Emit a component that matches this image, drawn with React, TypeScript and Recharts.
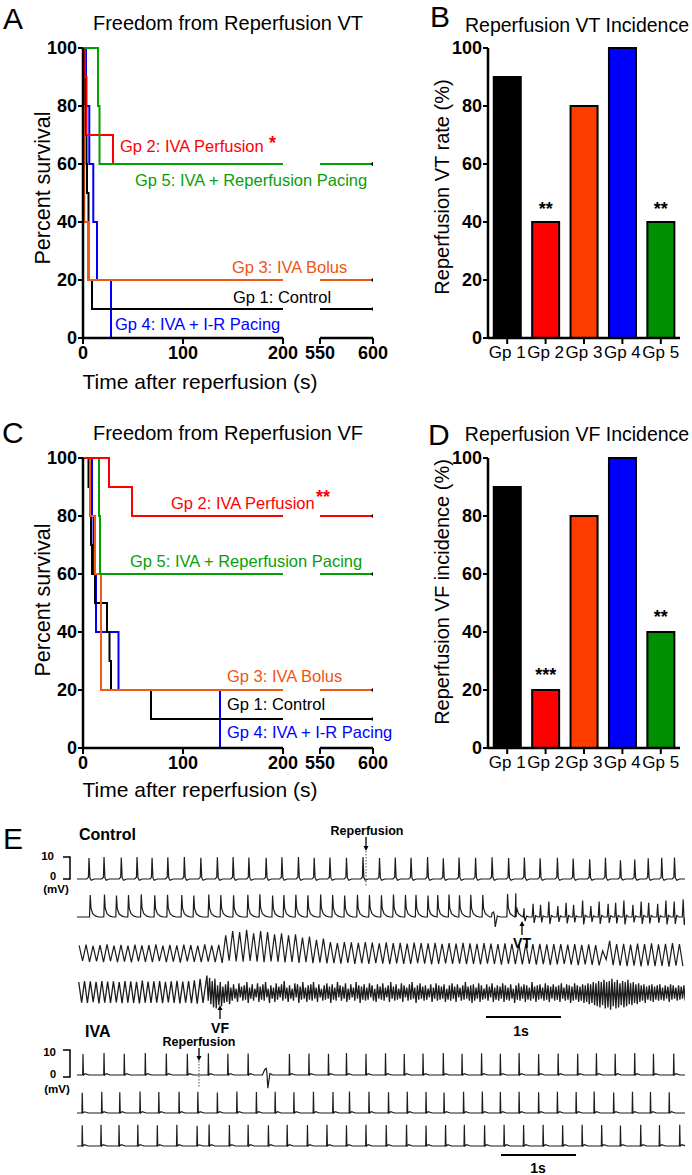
import React from 'react';
import { LineChart, Line, XAxis, YAxis, BarChart, Bar, Cell, LabelList } from 'recharts';

const FONT = '"Liberation Sans", Arial, Helvetica, sans-serif';

// ---------- groups ----------
const groupLabels = ['Gp 1', 'Gp 2', 'Gp 3', 'Gp 4', 'Gp 5'];
const lineColors = ['#000000', '#ff0000', '#f25a14', '#0000ff', '#00a000'];
const barColors = ['#000000', '#ff0000', '#ff3c00', '#0000ff', '#008f00'];

// ---------- Panel A: freedom from reperfusion VT (KM) ----------
const vtTimesGp1 = [0, 1, 2, 3, 3.5, 4, 5.5, 9];
const vtSurvGp1 = [100, 90, 80, 70, 60, 50, 20, 10];
const vtTimesGp2 = [0, 2, 3.5, 30];
const vtSurvGp2 = [100, 90, 70, 60];
const vtTimesGp3 = [0, 0.5, 1, 1.3, 5.5];
const vtSurvGp3 = [100, 80, 60, 40, 20];
const vtTimesGp4 = [0, 3, 6.3, 10.3, 14, 28];
const vtSurvGp4 = [100, 80, 60, 40, 20, 0];
const vtTimesGp5 = [0, 15, 16.5];
const vtSurvGp5 = [100, 80, 60];

// ---------- Panel C: freedom from reperfusion VF (KM) ----------
const vfTimesGp1 = [0, 5.5, 7, 8, 9, 12, 24, 26.5, 28, 68];
const vfSurvGp1 = [100, 90, 80, 70, 60, 50, 40, 30, 20, 10];
const vfTimesGp2 = [0, 26, 49];
const vfSurvGp2 = [100, 90, 80];
const vfTimesGp3 = [0, 7, 12, 18];
const vfSurvGp3 = [100, 80, 60, 20];
const vfTimesGp4 = [0, 9, 10.5, 13, 35.5, 137];
const vfSurvGp4 = [100, 80, 60, 40, 20, 0];
const vfTimesGp5 = [0, 16, 17];
const vfSurvGp5 = [100, 80, 60];

const survTicks = [0, 20, 40, 60, 80, 100];
const timeTicksLeft = [0, 100, 200];
const timeTicksRight = [550, 600];

// ---------- Panels B, D ----------
const vtRate = [90, 40, 80, 100, 40];
const vtSig = ['', '**', '', '', '**'];
const vfRate = [90, 20, 80, 100, 40];
const vfSig = ['', '***', '', '', '**'];

// ---------- Panel E: ECG traces (time in s, voltage in mV) ----------
const ctl1Beats = [0.16, 0.36, 0.59, 0.8, 1.0, 1.21, 1.43, 1.65, 1.87, 2.08, 2.29, 2.52, 2.73, 2.95, 3.16, 3.37, 3.59, 3.81, 4.03, 4.24, 4.45, 4.67, 4.88, 5.09, 5.31, 5.53, 5.75, 5.96, 6.17, 6.4, 6.61, 6.83, 7.04, 7.24, 7.43, 7.61, 7.79, 7.96];
const ctl1Amps = [9.5, 10, 9.8, 10, 9.6, 9.9, 10, 9.7, 9.9, 10, 9.8, 9.6, 9.9, 10, 9.7, 9.8, 9.6, 10, 9.5, 9.8, 9.7, 10, 9.4, 9.8, 9.6, 9.9, 9.5, 9.8, 9.4, 9.7, 9.3, 9, 9.6, 8.5, 8.8, 9.4, 9.7, 9.8];
const ctl1Kinds = 's';

const ctl2Beats = [0.17, 0.36, 0.52, 0.68, 0.85, 1.03, 1.2, 1.39, 1.55, 1.75, 1.91, 2.08, 2.27, 2.43, 2.6, 2.75, 2.91, 3.07, 3.24, 3.4, 3.56, 3.73, 3.89, 4.05, 4.21, 4.37, 4.51, 4.67, 4.8, 4.95, 5.09, 5.24, 5.4, 5.56, 5.73, 5.84, 5.95, 6.07, 6.17, 6.28, 6.4, 6.51, 6.61, 6.73, 6.84, 6.95, 7.07, 7.17, 7.28, 7.4, 7.51, 7.61, 7.73, 7.84, 7.95, 8.07];
const ctl2Amps = [10, 10.2, 9.8, 10, 10.3, 9.9, 10.1, 10, 9.8, 10.2, 10, 9.9, 10.1, 10.3, 9.8, 10, 10.1, 9.9, 10.2, 10, 9.8, 10.1, 10, 9.9, 10.2, 10, 10.1, 9.8, 10, 10.2, 9.9, 10.1, 10, 4.5, 10.5, 10.8,
  4, 6, 5.5, 7, 5, 6.5, 5.5, 7.5, 5, 7, 6, 6.5, 7.5, 5.5, 7, 6.5, 6, 7.5, 7, 8];
const ctl2Kinds = 'uuuuuuuuuuuuuuuuuuuuuuuuuuuuuuuuueuuvvvvvvvvvvvvvvvvvvvv';

const ctl3Hi = [3.5, 3.8, 3.2, 3.6, 3.9, 3.4, 3.7, 3.3, 3.8, 3.5, 3.6, 3.9, 3.4, 3.7, 3.5, 3.8, 3.6, 3.3, 3.9, 3.5, 3.7,
  8, 10, 9.5, 10.5, 9, 10, 9.5, 8.5, 9, 8, 8.5, 7, 7.5, 6, 6.5,
  5, 4.5, 5, 4.8, 4.6, 5, 4.7, 4.4, 4.8, 4.5, 4.6, 4.3, 4.7, 4.5, 4.4, 4.6, 4.2, 4.5, 4.3, 4.6,
  4.4, 4.2, 4.5, 4.3, 4.1, 4.4, 4.2, 4.0, 4.3, 4.1, 4.2, 3.9, 4.1, 4.0, 3.8, 4.0, 3.7, 3.9, 3.6, 1.0,
  5.5, 4, 4.2, 3.8, 4.3, 4, 4.4, 3.9, 4.2, 4.5, 4.1];
const ctl3Lo = [-3.6, -4, -3.8, -4.2, -3.7, -4.1, -3.9, -4.3, -3.8, -4, -4.2, -3.7, -4.1, -3.9, -4.4, -3.8, -4, -4.2, -3.9, -4.1, -4.5,
  -3.5, -3.8, -4, -3.6, -3.9, -4.2, -3.8, -4, -4.3, -4.1, -4.5, -4.2, -4.6, -4.4, -4.7,
  -4.6, -4.8, -4.5, -4.9, -4.7, -5, -4.6, -4.8, -5.1, -4.7, -4.9, -5, -4.6, -4.8, -5.2, -4.9, -4.7, -5, -4.8, -5.1,
  -4.9, -5.2, -4.8, -5, -5.3, -4.9, -5.1, -5.2, -5, -5.3, -5.1, -5.4, -5.2, -5, -5.3, -5.5, -5.2, -5.4, -5.6, -3,
  -5.5, -5.8, -6, -5.7, -6.1, -5.8, -6, -5.9, -6.2, -5.8, -6];

const ctl4PreHi = [4.5, 5, 4.8, 4.6, 5, 4.7, 4.9, 4.5, 5, 4.8, 4.6, 5.2, 4.7, 4.9, 5, 4.6, 4.8, 5.1, 4.7, 5, 5.3, 6];
const ctl4PreLo = [-4.8, -5, -4.6, -5.2, -4.9, -5, -4.7, -5.1, -4.8, -5, -5.2, -4.9, -5, -4.8, -5.1, -4.7, -5, -5.2, -4.9, -5.1, -5.3, -5];
const ctl4VfHi = [
  7.5, 6.5, 5, 6, 3, 4.5, 2.5, 3.5, 5, 2,
  3.5, 1.5, 4, 2.5, 3, 4.5, 2, 3.5, 1.5, 4,
  2.5, 3.5, 4.5, 1.5, 3, 2, 4, 2.5, 3.5, 5,
  2, 3, 1.5, 4, 3.5, 2.5, 4.5, 2, 3, 3.5,
  4.5, 2, 3.5, 1.5, 3, 4, 2.5, 3.5, 2, 4.5,
  3, 2.5, 4, 1.5, 3.5, 2, 4.5, 3, 2.5, 3.5,
  2, 4, 3, 1.5, 3.5, 2.5, 4, 2, 3, 4.5,
  2.5, 3.5, 1.5, 4, 3, 2, 3.5, 4.5, 2, 3,
  4, 2.5, 3, 1.5, 3.5, 2, 4, 3, 2.5, 3.5,
  1.5, 3, 4, 2.5, 3.5, 2, 3, 4.5, 2.5, 3,
  3.5, 2, 4, 3, 1.5, 3.5, 2.5, 4, 2, 3,
  2.5, 4, 3, 2, 3.5, 1.5, 3, 4, 2.5, 3.5,
  3, 2, 4.5, 2.5, 3, 3.5, 2, 4, 3, 2.5,
  3.5, 2.5, 3, 4, 2, 3.5, 3, 2.5, 4, 3,
  2.5, 3.5, 3, 4, 3.5, 4.5, 4, 5, 4.5, 5.5,
  4.5, 5, 6, 4.5, 5.5, 4, 5, 4.5, 5.5, 4,
  4.5, 3.5, 4, 3, 3.5, 2.5, 3, 3.5, 2.5, 3,
  3.5, 2, 3, 2.5, 3.5, 3, 2, 3, 2.5, 3];
const ctl4VfLo = [
  -4, -5.5, -7, -7.5, -6, -6.5, -5, -4.5, -5.5, -4,
  -3, -4.5, -2.5, -4, -3.5, -5, -3, -4, -2.5, -4.5,
  -3.5, -4, -2.5, -5, -3, -4.5, -3.5, -2.5, -4, -3,
  -4.5, -3, -4, -2.5, -5, -3.5, -3, -4.5, -3.5, -4,
  -3, -4.5, -2.5, -4, -3.5, -3, -5, -3.5, -4, -2.5,
  -4, -3, -4.5, -3.5, -2.5, -4, -3, -5, -3.5, -4,
  -3.5, -2.5, -4, -4.5, -3, -3.5, -4, -2.5, -4.5, -3,
  -4, -3.5, -3, -4.5, -2.5, -4, -3.5, -3, -5, -3.5,
  -3, -4, -3.5, -2.5, -4.5, -3, -4, -3.5, -3, -4.5,
  -3.5, -4, -3, -4.5, -2.5, -4, -3.5, -3, -4, -5,
  -4, -3, -4.5, -3.5, -3, -4, -2.5, -4.5, -3.5, -4,
  -3, -4.5, -3.5, -4, -3, -5, -3.5, -4, -3, -4.5,
  -3.5, -4, -3, -4.5, -3.5, -3, -4, -3.5, -4.5, -3,
  -4, -3.5, -4.5, -3, -4, -3.5, -5, -4, -3.5, -4.5,
  -4, -5, -4.5, -5.5, -5, -6, -6.5, -7, -6, -7.5,
  -7, -8, -6.5, -7.5, -7, -6, -7, -6.5, -5.5, -6,
  -5, -5.5, -4.5, -4, -5, -3.5, -4, -4.5, -3.5, -4,
  -3.5, -4, -3, -4.5, -3.5, -3, -4, -3.5, -3, -4];

const iva1Beats = [0.08, 0.36, 0.63, 0.91, 1.19, 1.47, 1.75, 2.01, 2.28, 2.53, 2.83, 3.09, 3.35, 3.59, 3.85, 4.11, 4.36, 4.61, 4.88, 5.13, 5.39, 5.64, 5.89, 6.15, 6.41, 6.67, 6.92, 7.17, 7.43, 7.68, 7.95];
const iva1Amps = [9.5, 10, 9.6, 10, 9.8, 9.7, 9.9, 9.6, 9.8, 6, 9.5, 9.8, 9.6, 10, 9.7, 9.9, 9.5, 9.8, 10, 9.6, 9.9, 9.7, 10, 9.5, 9.8, 9.6, 9.9, 9.7, 10, 9.6, 9.8];
const iva1Kinds = 'iiiiiiiiieiiiiiiiiiiiiiiiiiiiii';
const iva2Beats = [0.07, 0.33, 0.57, 0.84, 1.09, 1.36, 1.61, 1.87, 2.13, 2.39, 2.64, 2.89, 3.15, 3.41, 3.63, 3.89, 4.15, 4.4, 4.65, 4.89, 5.15, 5.4, 5.64, 5.89, 6.15, 6.4, 6.65, 6.89, 7.15, 7.4, 7.64, 7.89];
const iva2Amps = [9.2, 9.6, 9.4, 9.8, 9.5, 9.7, 9.6, 9.3, 9.8, 9.5, 9.6, 9.4, 9.7, 9.5, 9.8, 9.6, 9.4, 9.7, 9.5, 9.3, 9.6, 9.8, 9.5, 9.7, 9.4, 9.6, 9.5, 9.8, 9.3, 9.6, 9.5, 9.4];
const iva3Beats = [0.07, 0.32, 0.56, 0.81, 1.07, 1.33, 1.6, 1.76, 2.03, 2.28, 2.55, 2.8, 3.07, 3.33, 3.59, 3.85, 4.12, 4.39, 4.65, 4.91, 5.16, 5.43, 5.69, 5.95, 6.21, 6.47, 6.73, 6.99, 7.24, 7.51, 7.76, 8.03];
const iva3Amps = [9.4, 9.6, 9.5, 9.7, 9.4, 9.6, 9.2, 9.8, 9.5, 9.6, 9.4, 9.7, 9.5, 9.6, 9.4, 9.7, 9.5, 9.6, 9.3, 9.5, 9.7, 9.4, 9.6, 9.5, 9.7, 9.4, 9.6, 9.5, 9.3, 9.6, 9.5, 9.7];

// beat shape templates (relative time offset in s, fraction of beat amplitude)
const TEMPLATES: Record<string, { dt: number[]; v: number[] }> = {
  s: { dt: [-0.03, -0.008, 0, 0.012, 0.03, 0.07], v: [0, 0.08, 1, 0.05, -0.06, 0] },
  u: { dt: [-0.003, 0.006, 0.016, 0.04, 0.08, 0.12], v: [0, 1, 0.4, 0.15, 0.04, 0] },
  v: { dt: [-0.006, 0.006, 0.02, 0.04, 0.07], v: [0, 1, -0.45, 0.1, 0] },
  i: { dt: [-0.012, -0.004, 0, 0.006, 0.03, 0.08], v: [0, 0.04, 1, 0, 0.06, 0] },
  e: { dt: [-0.06, -0.03, -0.01, 0, 0.012, 0.04, 0.08], v: [0, 0.4, 0.5, 0.2, -1, 0.1, 0] },
};

type Pt = { t: number; v: number };

function buildBeats(times: number[], amps: number[], kinds: string, end = 8.15): Pt[] {
  const pts: Pt[] = [{ t: 0, v: 0 }];
  times.forEach((tb, i) => {
    const k = kinds.length > 1 ? kinds[i] : kinds;
    const tpl = TEMPLATES[k] || TEMPLATES.i;
    const a = amps[i] ?? 10;
    tpl.dt.forEach((d, j) => pts.push({ t: tb + d, v: a * tpl.v[j] }));
  });
  pts.push({ t: end, v: 0 });
  pts.sort((p, q) => p.t - q.t);
  return pts;
}

function buildWave(start: number, period: number, hi: number[], lo: number[]): Pt[] {
  const pts: Pt[] = [];
  hi.forEach((h, k) => {
    const t0 = start + k * period;
    pts.push({ t: t0 + 0.3 * period, v: h });
    pts.push({ t: t0 + 0.8 * period, v: lo[k] ?? -h });
  });
  return pts;
}

function kmLeft(times: number[], surv: number[]): Pt[] {
  const pts = times.map((t, i) => ({ t, v: surv[i] }));
  const last = surv[surv.length - 1];
  if (last > 0) pts.push({ t: 200, v: last });
  return pts;
}
function kmRight(surv: number[]): Pt[] | null {
  const last = surv[surv.length - 1];
  if (last <= 0) return null;
  return [{ t: 550, v: last }, { t: 600, v: last }];
}

const tickStyle = { fill: '#000', fontSize: 18, fontFamily: FONT, fontWeight: 'bold' as const };
const catTickStyle = { fill: '#000', fontSize: 17, fontFamily: FONT };
const axisLineStyle = { stroke: '#000', strokeWidth: 2.5 };
const tickLineStyle = { stroke: '#000', strokeWidth: 2 };

type Series = { key: string; color: string; left: Pt[]; right: Pt[] | null };

function makeSeries(order: number[], times: number[][], survs: number[][]): Series[] {
  return order.map((g) => ({
    key: groupLabels[g],
    color: lineColors[g],
    left: kmLeft(times[g], survs[g]),
    right: kmRight(survs[g]),
  }));
}

const seriesA = makeSeries(
  [3, 0, 2, 1, 4],
  [vtTimesGp1, vtTimesGp2, vtTimesGp3, vtTimesGp4, vtTimesGp5],
  [vtSurvGp1, vtSurvGp2, vtSurvGp3, vtSurvGp4, vtSurvGp5]
);
const seriesC = makeSeries(
  [3, 0, 2, 4, 1],
  [vfTimesGp1, vfTimesGp2, vfTimesGp3, vfTimesGp4, vfTimesGp5],
  [vfSurvGp1, vfSurvGp2, vfSurvGp3, vfSurvGp4, vfSurvGp5]
);

const endDot = (props: any) => {
  const { cx, cy, index } = props;
  if (index === 1) return <circle key={`e${index}`} cx={cx} cy={cy} r={1.7} fill="#000" />;
  return <g key={`e${index}`} />;
};

function KMPanel({ top, series }: { top: number; series: Series[] }) {
  return (
    <>
      <div style={{ position: 'absolute', left: 0, top }}>
        <LineChart width={300} height={370} margin={{ top: 48, right: 17, bottom: 2, left: 0 }}>
          <XAxis type="number" dataKey="t" domain={[0, 200]} ticks={timeTicksLeft} allowDataOverflow interval={0}
            height={30} tickSize={6} tickMargin={2} tick={tickStyle} axisLine={axisLineStyle} tickLine={tickLineStyle} />
          <YAxis type="number" domain={[0, 100]} ticks={survTicks} width={83} interval={0}
            tickSize={5} tickMargin={1} tick={tickStyle} axisLine={axisLineStyle} tickLine={tickLineStyle} />
          {series.map((s) => (
            <Line key={s.key} data={s.left} dataKey="v" type="stepAfter" stroke={s.color} strokeWidth={2}
              dot={false} isAnimationActive={false} />
          ))}
        </LineChart>
      </div>
      <div style={{ position: 'absolute', left: 300, top }}>
        <LineChart width={98} height={370} margin={{ top: 48, right: 25, bottom: 2, left: 20 }}>
          <XAxis type="number" dataKey="t" domain={[550, 600]} ticks={timeTicksRight} allowDataOverflow interval={0}
            height={30} tickSize={6} tickMargin={2} tick={tickStyle} axisLine={axisLineStyle} tickLine={tickLineStyle} />
          <YAxis type="number" domain={[0, 100]} hide />
          {series.filter((s) => s.right).map((s) => (
            <Line key={s.key} data={s.right as Pt[]} dataKey="v" type="linear" stroke={s.color} strokeWidth={2}
              dot={endDot} isAnimationActive={false} />
          ))}
        </LineChart>
      </div>
    </>
  );
}

function BarPanel({ top, values, sig, offset }: { top: number; values: number[]; sig: string[]; offset: number }) {
  const data = groupLabels.map((g, i) => ({ g, v: values[i], s: sig[i] }));
  return (
    <div style={{ position: 'absolute', left: 440, top }}>
      <BarChart width={250} height={370} data={data} margin={{ top: 48, right: 10, bottom: 2, left: 0 }} barCategoryGap="15%">
        <XAxis dataKey="g" interval={0} height={30} tickSize={6} tickMargin={2} tick={catTickStyle}
          axisLine={axisLineStyle} tickLine={tickLineStyle} />
        <YAxis type="number" domain={[0, 100]} ticks={survTicks} width={48} interval={0}
          tickSize={5} tickMargin={1} tick={tickStyle} axisLine={axisLineStyle} tickLine={tickLineStyle} />
        <Bar dataKey="v" stroke="#000" strokeWidth={2} isAnimationActive={false}>
          {data.map((d, i) => (
            <Cell key={d.g} fill={barColors[i]} />
          ))}
          <LabelList dataKey="s" position="top" offset={offset} fill="#000" fontSize={18} fontWeight="bold" fontFamily={FONT} />
        </Bar>
      </BarChart>
    </div>
  );
}

function EcgRow({ data, top, width = 1.2 }: { data: Pt[]; top: number; width?: number }) {
  return (
    <div style={{ position: 'absolute', left: 77, top }}>
      <LineChart width={608} height={66} data={data} margin={{ top: 0, right: 0, bottom: 0, left: 0 }}>
        <XAxis type="number" dataKey="t" domain={[0, 8.1]} hide allowDataOverflow />
        <YAxis type="number" domain={[-15, 15]} hide allowDataOverflow />
        <Line dataKey="v" type="linear" dot={false} stroke="#1c1c1c" strokeWidth={width} isAnimationActive={false} />
      </LineChart>
    </div>
  );
}

const ecgCtl1 = buildBeats(ctl1Beats, ctl1Amps, ctl1Kinds);
const ecgCtl2 = buildBeats(ctl2Beats, ctl2Amps, ctl2Kinds);
const ecgCtl3 = buildWave(0, 0.093, ctl3Hi, ctl3Lo);
const ecgCtl4 = [...buildWave(0, 0.077, ctl4PreHi, ctl4PreLo), ...buildWave(1.72, 0.0355, ctl4VfHi, ctl4VfLo)];
const ecgIva1 = buildBeats(iva1Beats, iva1Amps, iva1Kinds);
const ecgIva2 = buildBeats(iva2Beats, iva2Amps, 'i');
const ecgIva3 = buildBeats(iva3Beats, iva3Amps, 'i');

const T = (p: any) => <text fontFamily={FONT} fill="#000" dominantBaseline="central" {...p} />;

function Arrow({ x, y1, y2 }: { x: number; y1: number; y2: number }) {
  const dir = y2 > y1 ? 1 : -1;
  return (
    <g>
      <line x1={x} y1={y1} x2={x} y2={y2 - dir * 3} stroke="#000" strokeWidth={1.3} />
      <path d={`M${x - 2.5},${y2 - dir * 5} L${x + 2.5},${y2 - dir * 5} L${x},${y2} Z`} fill="#000" />
    </g>
  );
}

function Overlay() {
  const green = '#0a9e0a';
  const orange = '#ee5514';
  return (
    <svg width={692} height={1175} style={{ position: 'absolute', left: 0, top: 0, pointerEvents: 'none' }}>
      {/* panel letters */}
      <T x={3} y={18} fontSize={30}>A</T>
      <T x={430} y={16} fontSize={30}>B</T>
      <T x={2} y={432} fontSize={30}>C</T>
      <T x={428} y={434} fontSize={30}>D</T>
      <T x={3} y={838} fontSize={30}>E</T>

      {/* titles */}
      <T x={228} y={23} fontSize={20} textAnchor="middle">Freedom from Reperfusion VT</T>
      <T x={577} y={25} fontSize={19.5} textAnchor="middle">Reperfusion VT Incidence</T>
      <T x={228} y={433} fontSize={20} textAnchor="middle">Freedom from Reperfusion VF</T>
      <T x={577} y={434} fontSize={19.5} textAnchor="middle">Reperfusion VF Incidence</T>

      {/* axis titles */}
      <T transform="translate(43,188) rotate(-90)" fontSize={21.5} textAnchor="middle">Percent survival</T>
      <T x={200} y={381} fontSize={21} textAnchor="middle">Time after reperfusion (s)</T>
      <T transform="translate(43,600) rotate(-90)" fontSize={21.5} textAnchor="middle">Percent survival</T>
      <T x={200} y={789} fontSize={21} textAnchor="middle">Time after reperfusion (s)</T>
      <T transform="translate(442,187) rotate(-90)" fontSize={20} textAnchor="middle">Reperfusion VT rate (%)</T>
      <T transform="translate(442,592) rotate(-90)" fontSize={20} textAnchor="middle">Reperfusion VF incidence (%)</T>

      {/* annotations A */}
      <T x={120} y={146} fontSize={16.5} fill="#ff0000">Gp 2: IVA Perfusion</T>
      <T x={269} y={143} fontSize={18} fontWeight="bold" fill="#ff0000">*</T>
      <T x={135} y={180} fontSize={16.5} fill={green}>Gp 5: IVA + Reperfusion Pacing</T>
      <T x={232} y={267} fontSize={16.5} fill={orange}>Gp 3: IVA Bolus</T>
      <T x={233} y={297} fontSize={16.5} fill="#000">Gp 1: Control</T>
      <T x={115} y={324} fontSize={16.5} fill="#0000ff">Gp 4: IVA + I-R Pacing</T>

      {/* annotations C */}
      <T x={171} y={503} fontSize={16.5} fill="#ff0000">Gp 2: IVA Perfusion</T>
      <T x={316} y={497} fontSize={18} fontWeight="bold" fill="#ff0000">**</T>
      <T x={130} y={561} fontSize={16.5} fill={green}>Gp 5: IVA + Reperfusion Pacing</T>
      <T x={227} y={676} fontSize={16.5} fill={orange}>Gp 3: IVA Bolus</T>
      <T x={227} y={704} fontSize={16.5} fill="#000">Gp 1: Control</T>
      <T x={227} y={732} fontSize={16.5} fill="#0000ff">Gp 4: IVA + I-R Pacing</T>

      {/* Panel E labels */}
      <T x={79} y={834} fontSize={16} fontWeight="bold">Control</T>
      <T x={367} y={831} fontSize={12.5} fontWeight="bold" textAnchor="middle">Reperfusion</T>
      <Arrow x={366} y1={837} y2={851} />
      <line x1={366} y1={851} x2={366} y2={887} stroke="#555" strokeWidth={1} strokeDasharray="1.5 1.5" />
      <T x={522} y={943} fontSize={14} fontWeight="bold" textAnchor="middle">VT</T>
      <Arrow x={522} y1={935} y2={921} />
      <T x={220} y={1028} fontSize={14} fontWeight="bold" textAnchor="middle">VF</T>
      <Arrow x={220} y1={1019} y2={1005} />
      <line x1={486} y1={1017} x2={561} y2={1017} stroke="#000" strokeWidth={2} />
      <T x={521} y={1031} fontSize={14} fontWeight="bold" textAnchor="middle">1s</T>

      <T x={85} y={1031} fontSize={16} fontWeight="bold">IVA</T>
      <T x={199} y={1042} fontSize={12.5} fontWeight="bold" textAnchor="middle">Reperfusion</T>
      <Arrow x={199} y1={1048} y2={1061} />
      <line x1={199} y1={1061} x2={199} y2={1088} stroke="#555" strokeWidth={1} strokeDasharray="1.5 1.5" />
      <line x1={501} y1={1155} x2={576} y2={1155} stroke="#000" strokeWidth={2} />
      <T x={538} y={1168} fontSize={14} fontWeight="bold" textAnchor="middle">1s</T>

      {/* mV scale brackets */}
      <path d="M63,857 H70 V879 H63" fill="none" stroke="#000" strokeWidth={1.5} />
      <T x={54} y={856} fontSize={11.5} fontWeight="bold" textAnchor="end">10</T>
      <T x={53} y={876} fontSize={11} fontWeight="bold" textAnchor="middle">0</T>
      <T x={56} y={889} fontSize={11.5} fontWeight="bold" textAnchor="middle">(mV)</T>
      <path d="M63,1050 H70 V1077 H63" fill="none" stroke="#000" strokeWidth={1.5} />
      <T x={56} y={1052} fontSize={11.5} fontWeight="bold" textAnchor="end">10</T>
      <T x={53} y={1074} fontSize={11} fontWeight="bold" textAnchor="middle">0</T>
      <T x={57} y={1089} fontSize={11.5} fontWeight="bold" textAnchor="middle">(mV)</T>
    </svg>
  );
}

export default function App() {
  return (
    <div style={{ position: 'absolute', left: 0, top: 0, width: 692, height: 1175, background: '#fff', fontFamily: FONT, overflow: 'hidden' }}>
      <KMPanel top={0} series={seriesA} />
      <BarPanel top={0} values={vtRate} sig={vtSig} offset={7} />
      <KMPanel top={410} series={seriesC} />
      <BarPanel top={410} values={vfRate} sig={vfSig} offset={9} />
      <EcgRow data={ecgCtl1} top={846} />
      <EcgRow data={ecgCtl2} top={884} />
      <EcgRow data={ecgCtl3} top={920} />
      <EcgRow data={ecgCtl4} top={959} width={1.3} />
      <EcgRow data={ecgIva1} top={1042} />
      <EcgRow data={ecgIva2} top={1080} />
      <EcgRow data={ecgIva3} top={1113} />
      <Overlay />
    </div>
  );
}
